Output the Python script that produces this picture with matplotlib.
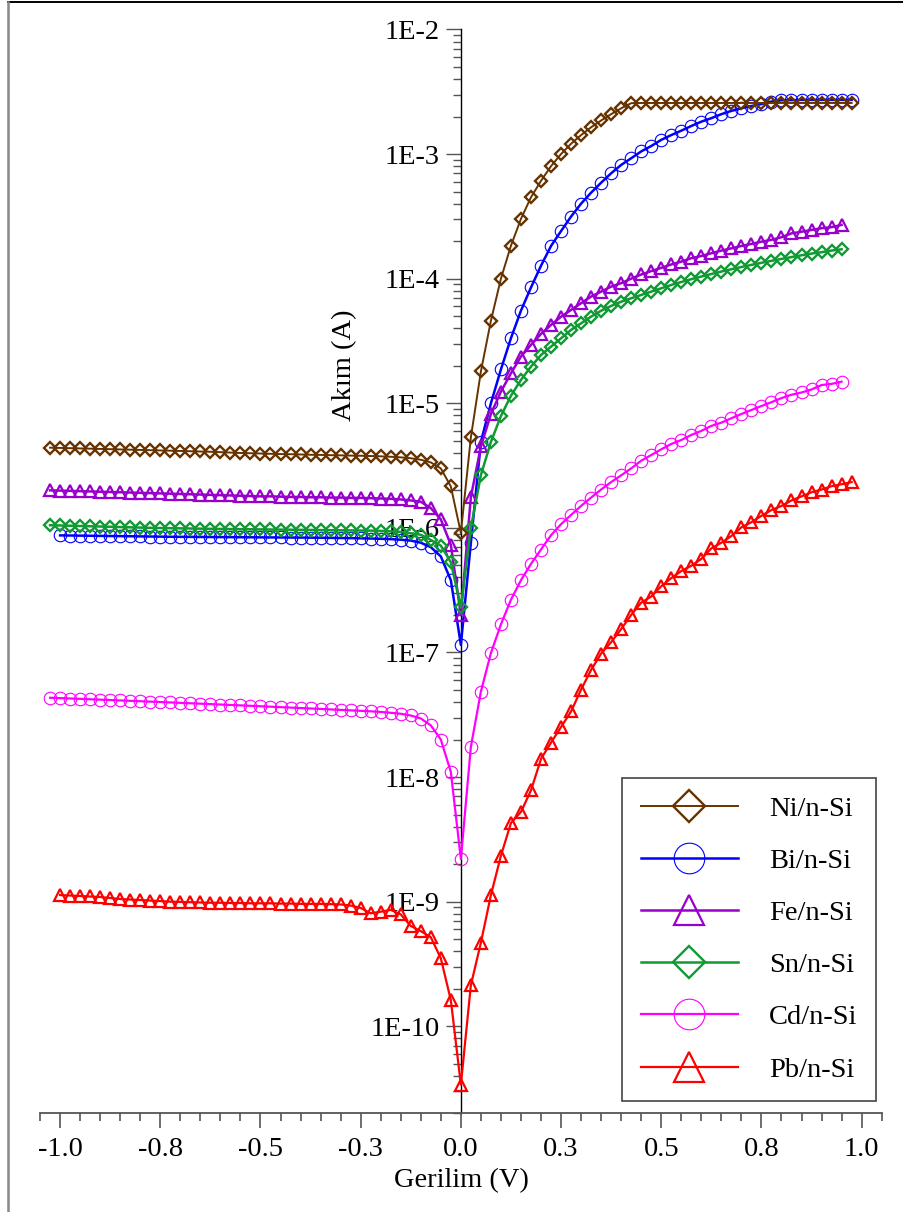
import numpy as np
import matplotlib
matplotlib.use("Agg")
import matplotlib.pyplot as plt
from matplotlib.lines import Line2D
from matplotlib.ticker import FixedLocator, LogLocator, FuncFormatter, NullFormatter

# ==============================
# I-V data (current in A)
# ==============================

# voltage sweeps, 25 mV step
v_long = np.linspace(-1.025, 0.975, 81)   # Ni
v_bi = np.linspace(-1.0, 0.975, 80)       # Bi, Pb
v_short = np.linspace(-1.025, 0.95, 80)   # Fe, Sn, Cd

ni_rev = [4.40, 4.38, 4.36, 4.34, 4.32, 4.30, 4.28, 4.26, 4.24, 4.22,
          4.20, 4.18, 4.16, 4.14, 4.12, 4.10, 4.08, 4.05, 4.02, 3.99,
          3.97, 3.95, 3.93, 3.91, 3.90, 3.88, 3.86, 3.85, 3.83, 3.82,
          3.80, 3.79, 3.77, 3.75, 3.72, 3.68, 3.62, 3.52, 3.35, 3.00,
          2.15, 0.91]
ni_fwd = [5.33e-6, 1.80e-5, 4.60e-5, 1.0e-4, 1.84e-4, 3.02e-4, 4.50e-4, 6.10e-4, 8.0e-4, 1.0e-3,
          1.21e-3, 1.42e-3, 1.64e-3, 1.86e-3, 2.09e-3, 2.33e-3, 2.56e-3, 2.57e-3, 2.57e-3, 2.57e-3,
          2.57e-3, 2.57e-3, 2.57e-3, 2.57e-3, 2.57e-3, 2.57e-3, 2.57e-3, 2.57e-3, 2.57e-3, 2.57e-3,
          2.57e-3, 2.57e-3, 2.57e-3, 2.57e-3, 2.57e-3, 2.57e-3, 2.57e-3, 2.57e-3, 2.57e-3]

bi_rev = [8.70, 8.68, 8.66, 8.64, 8.62, 8.60, 8.58, 8.56, 8.54, 8.52,
          8.50, 8.48, 8.47, 8.46, 8.45, 8.44, 8.43, 8.42, 8.41, 8.40,
          8.39, 8.38, 8.37, 8.36, 8.35, 8.34, 8.33, 8.31, 8.29, 8.27,
          8.24, 8.21, 8.17, 8.12, 8.03, 7.90, 7.60, 7.00, 5.90, 3.80,
          1.15]
bi_fwd = [7.6e-7, 4.9e-6, 1.0e-5, 1.87e-5, 3.33e-5, 5.54e-5, 8.5e-5, 1.27e-4, 1.83e-4, 2.41e-4,
          3.15e-4, 4.0e-4, 4.9e-4, 5.89e-4, 7.01e-4, 8.18e-4, 9.25e-4, 1.05e-3, 1.16e-3, 1.30e-3,
          1.42e-3, 1.54e-3, 1.68e-3, 1.82e-3, 1.94e-3, 2.09e-3, 2.22e-3, 2.33e-3, 2.43e-3, 2.52e-3,
          2.64e-3, 2.70e-3, 2.71e-3, 2.72e-3, 2.72e-3, 2.72e-3, 2.72e-3, 2.72e-3, 2.72e-3]

fe_rev = [2.00, 1.99, 1.98, 1.97, 1.96, 1.95, 1.94, 1.93, 1.92, 1.91,
          1.90, 1.89, 1.88, 1.87, 1.86, 1.85, 1.84, 1.83, 1.82, 1.81,
          1.80, 1.79, 1.79, 1.78, 1.77, 1.77, 1.76, 1.76, 1.75, 1.75,
          1.74, 1.74, 1.73, 1.72, 1.71, 1.69, 1.66, 1.62, 1.44, 1.17,
          0.73, 0.20]
fe_fwd = [1.77e-6, 4.5e-6, 8.2e-6, 1.24e-5, 1.74e-5, 2.37e-5, 2.94e-5, 3.60e-5, 4.25e-5, 4.95e-5,
          5.61e-5, 6.35e-5, 7.18e-5, 7.87e-5, 8.63e-5, 9.2e-5, 1.0e-4, 1.08e-4, 1.15e-4, 1.22e-4,
          1.30e-4, 1.37e-4, 1.46e-4, 1.52e-4, 1.60e-4, 1.68e-4, 1.75e-4, 1.83e-4, 1.90e-4, 1.98e-4,
          2.05e-4, 2.15e-4, 2.31e-4, 2.38e-4, 2.46e-4, 2.54e-4, 2.59e-4, 2.70e-4]

sn_rev = [10.5, 10.45, 10.4, 10.35, 10.3, 10.25, 10.2, 10.15, 10.1, 10.05,
          10.0, 9.97, 9.94, 9.91, 9.88, 9.85, 9.82, 9.80, 9.78, 9.76,
          9.74, 9.72, 9.70, 9.68, 9.66, 9.64, 9.62, 9.60, 9.58, 9.56,
          9.54, 9.52, 9.50, 9.45, 9.38, 9.28, 9.05, 8.80, 8.00, 7.20,
          5.30, 2.30]
sn_fwd = [1.0e-6, 2.65e-6, 4.9e-6, 7.9e-6, 1.15e-5, 1.54e-5, 1.97e-5, 2.44e-5, 2.85e-5, 3.32e-5,
          3.88e-5, 4.38e-5, 4.96e-5, 5.53e-5, 6.04e-5, 6.53e-5, 6.96e-5, 7.4e-5, 7.87e-5, 8.37e-5,
          8.9e-5, 9.4e-5, 9.9e-5, 1.04e-4, 1.09e-4, 1.14e-4, 1.19e-4, 1.24e-4, 1.29e-4, 1.34e-4,
          1.39e-4, 1.44e-4, 1.49e-4, 1.54e-4, 1.59e-4, 1.63e-4, 1.68e-4, 1.72e-4]

cd_rev = [4.33, 4.30, 4.27, 4.24, 4.21, 4.18, 4.15, 4.12, 4.09, 4.06,
          4.03, 4.00, 3.97, 3.94, 3.91, 3.88, 3.85, 3.82, 3.79, 3.76,
          3.73, 3.70, 3.67, 3.64, 3.61, 3.58, 3.55, 3.52, 3.49, 3.46,
          3.43, 3.40, 3.37, 3.33, 3.28, 3.22, 3.12, 2.95, 2.60, 2.00,
          1.10, 0.22]
cd_fwd = [1.75e-8, 4.85e-8, 9.9e-8, 1.68e-7, 2.65e-7, 3.8e-7, 5.14e-7, 6.7e-7, 8.73e-7, 1.07e-6,
          1.27e-6, 1.50e-6, 1.75e-6, 2.03e-6, 2.33e-6, 2.64e-6, 3.0e-6, 3.46e-6, 3.84e-6, 4.27e-6,
          4.71e-6, 5.07e-6, 5.57e-6, 6.0e-6, 6.58e-6, 6.99e-6, 7.58e-6, 8.2e-6, 8.83e-6, 9.5e-6,
          1.02e-5, 1.10e-5, 1.17e-5, 1.22e-5, 1.29e-5, 1.40e-5, 1.43e-5, 1.49e-5]

pb_rev = [11.3, 11.2, 11.1, 11.0, 10.9, 10.7, 10.5, 10.4, 10.3, 10.2,
          10.1, 10.0, 9.95, 9.9, 9.85, 9.8, 9.8, 9.75, 9.75, 9.7,
          9.7, 9.7, 9.65, 9.65, 9.6, 9.6, 9.6, 9.55, 9.5, 9.3,
          8.9, 8.07, 8.3, 8.6, 7.9, 6.38, 5.8, 5.18, 3.51, 1.62,
          0.34]
pb_fwd = [2.14e-10, 4.69e-10, 1.13e-9, 2.34e-9, 4.28e-9, 5.25e-9, 7.82e-9, 1.40e-8, 1.89e-8, 2.52e-8,
          3.36e-8, 5.04e-8, 7.24e-8, 9.8e-8, 1.21e-7, 1.54e-7, 2.0e-7, 2.51e-7, 2.81e-7, 3.4e-7,
          3.95e-7, 4.5e-7, 4.96e-7, 5.63e-7, 6.84e-7, 7.6e-7, 8.6e-7, 1.01e-6, 1.11e-6, 1.25e-6,
          1.39e-6, 1.50e-6, 1.66e-6, 1.79e-6, 1.93e-6, 2.03e-6, 2.16e-6, 2.24e-6, 2.33e-6]

x_ticks = [-1.0, -0.75, -0.5, -0.25, 0.0, 0.25, 0.5, 0.75, 1.0]
x_tick_labels = ['-1.0', '-0.8', '-0.5', '-0.3', '0.0', '0.3', '0.5', '0.8', '1.0']

# ==============================
# Series table
# ==============================

ni = np.concatenate([np.array(ni_rev) * 1e-6, ni_fwd])
bi = np.concatenate([np.array(bi_rev) * 1e-7, bi_fwd])
fe = np.concatenate([np.array(fe_rev) * 1e-6, fe_fwd])
sn = np.concatenate([np.array(sn_rev) * 1e-7, sn_fwd])
cd = np.concatenate([np.array(cd_rev) * 1e-8, cd_fwd])
pb = np.concatenate([np.array(pb_rev) * 1e-10, pb_fwd])

# label, x, y, color, marker, size, marker edge, line width
series = [
    ('Ni/n-Si', v_long, ni, '#663300', 'D', 6.6, 1.7, 1.4),
    ('Bi/n-Si', v_bi, bi, '#0000FF', 'o', 9.0, 0.8, 1.8),
    ('Fe/n-Si', v_short, fe, '#9900CC', '^', 9.0, 1.6, 1.8),
    ('Sn/n-Si', v_short, sn, '#119933', 'D', 6.6, 1.7, 1.8),
    ('Cd/n-Si', v_short, cd, '#FF00FF', 'o', 9.0, 0.8, 1.6),
    ('Pb/n-Si', v_bi, pb, '#FF0000', '^', 9.0, 1.6, 1.6),
]
draw_order = [1, 4, 5, 2, 3, 0]

# ==============================
# Plot
# ==============================

plt.rcParams['font.family'] = ['Liberation Serif', 'DejaVu Serif']
fs = 20.5

fig = plt.figure(figsize=(9.04, 12.12), dpi=100)
ax = fig.add_axes([0.0443, 0.0814, 0.9310, 0.8943])

handles = {}
for i in draw_order:
    label, x, y, color, marker, ms, mew, lw = series[i]
    h, = ax.plot(x, y, color=color, lw=lw, marker=marker, ms=ms,
                 mfc='none', mec=color, mew=mew, label=label, zorder=3)
    handles[i] = h

ax.set_yscale('log')
ax.set_xlim(-1.05, 1.05)
ax.set_ylim(2e-11, 1e-2)

# axes cross at V = 0
ax.spines['left'].set_position(('data', 0))
ax.spines['top'].set_visible(False)
ax.spines['right'].set_visible(False)
ax.spines['left'].set_linewidth(1.0)
ax.spines['bottom'].set_color('#555555')
ax.spines['bottom'].set_linewidth(1.3)

ax.xaxis.set_major_locator(FixedLocator(x_ticks))
ax.set_xticklabels(x_tick_labels)
ax.xaxis.set_minor_locator(FixedLocator(np.arange(-1.05, 1.051, 0.05)))
ax.tick_params(axis='x', which='major', direction='out', length=11, width=1.2,
               color='#555555', labelsize=fs, pad=6)
ax.tick_params(axis='x', which='minor', direction='out', length=5.5, width=1.2,
               color='#555555')

ax.yaxis.set_major_locator(LogLocator(base=10, numticks=20))
ax.yaxis.set_minor_locator(LogLocator(base=10, subs=np.arange(2, 10), numticks=20))
ax.yaxis.set_major_formatter(FuncFormatter(lambda v, p: '1E%d' % round(np.log10(v))))
ax.yaxis.set_minor_formatter(NullFormatter())
ax.tick_params(axis='y', which='major', direction='out', length=11, width=1.0,
               color='#555555', labelsize=fs, pad=4)
ax.tick_params(axis='y', which='minor', direction='out', length=5.5, width=1.0,
               color='#555555')

fig.text(345 / 904, 1 - 365 / 1212, 'Akım (A)', rotation=90,
         ha='center', va='center', fontsize=fs)
fig.text(461 / 904, 1 - 1181 / 1212, 'Gerilim (V)',
         ha='center', va='center', fontsize=fs)

leg = ax.legend([handles[i] for i in range(6)], [s[0] for s in series],
                loc='lower right', bbox_to_anchor=(0.993, 0.0113),
                borderaxespad=0, fontsize=fs, markerscale=2.45,
                handlelength=3.4, handletextpad=1.1, labelspacing=0.92,
                borderpad=0.65, fancybox=False, framealpha=1)
leg.get_frame().set_edgecolor('#444444')
leg.get_frame().set_linewidth(1.2)

# page frame
fig.add_artist(Line2D([8 / 904, 1], [1 - 2 / 1212, 1 - 2 / 1212],
                      color='black', lw=1.4, transform=fig.transFigure))
fig.add_artist(Line2D([8 / 904, 8 / 904], [0, 1 - 2 / 1212],
                      color='#888888', lw=1.8, transform=fig.transFigure))

fig.savefig('out.png', dpi=100)
